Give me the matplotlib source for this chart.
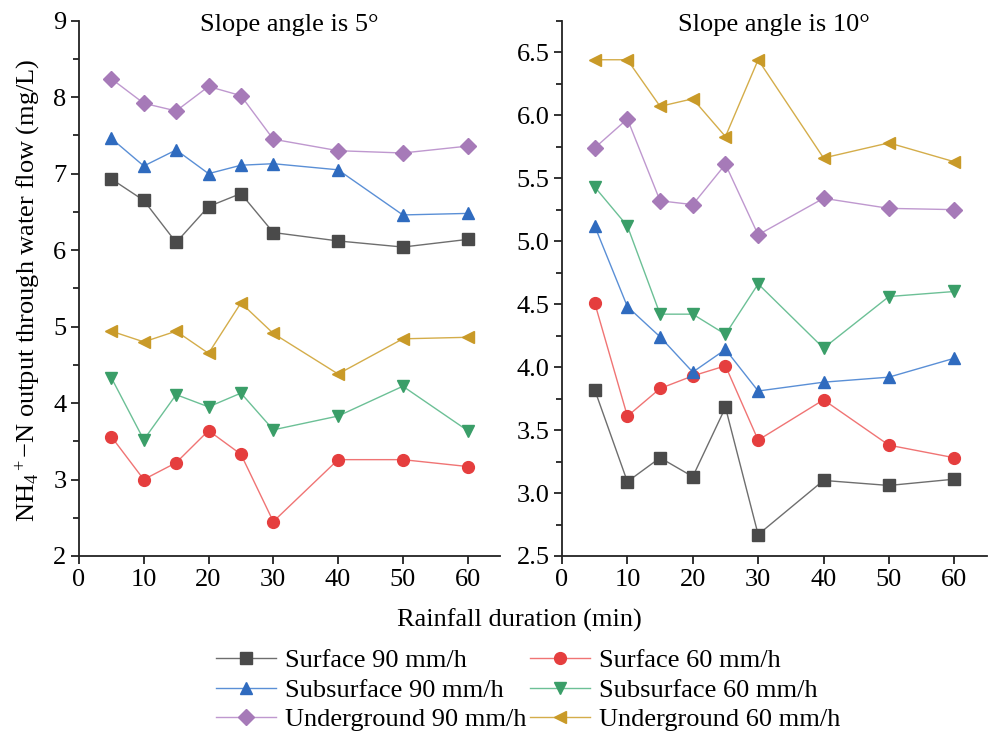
import matplotlib
matplotlib.use("Agg")
import matplotlib.pyplot as plt
from matplotlib.ticker import MultipleLocator

plt.rcParams['font.family'] = ['Liberation Serif', 'DejaVu Serif']
plt.rcParams['mathtext.fontset'] = 'custom'
plt.rcParams['mathtext.rm'] = 'Liberation Serif'
plt.rcParams['mathtext.it'] = 'Liberation Serif:italic'

FS = 19

duration = [5, 10, 15, 20, 25, 30, 40, 50, 60]

# Slope 5 degrees
s5_surface90 = [6.93, 6.65, 6.10, 6.57, 6.74, 6.23, 6.12, 6.04, 6.14]
s5_surface60 = [3.56, 3.00, 3.22, 3.64, 3.33, 2.45, 3.26, 3.26, 3.17]
s5_subsurface90 = [7.46, 7.10, 7.31, 7.00, 7.11, 7.13, 7.05, 6.46, 6.48]
s5_subsurface60 = [4.33, 3.52, 4.11, 3.95, 4.13, 3.65, 3.83, 4.22, 3.64]
s5_underground90 = [8.24, 7.92, 7.82, 8.14, 8.02, 7.45, 7.30, 7.27, 7.36]
s5_underground60 = [4.94, 4.80, 4.94, 4.65, 5.31, 4.91, 4.38, 4.84, 4.86]

# Slope 10 degrees
s10_surface90 = [3.82, 3.09, 3.28, 3.13, 3.68, 2.67, 3.10, 3.06, 3.11]
s10_surface60 = [4.51, 3.61, 3.83, 3.93, 4.01, 3.42, 3.74, 3.38, 3.28]
s10_subsurface90 = [5.12, 4.48, 4.24, 3.96, 4.14, 3.81, 3.88, 3.92, 4.07]
s10_subsurface60 = [5.43, 5.12, 4.42, 4.42, 4.26, 4.66, 4.15, 4.56, 4.60]
s10_underground90 = [5.74, 5.97, 5.32, 5.29, 5.61, 5.05, 5.34, 5.26, 5.25]
s10_underground60 = [6.44, 6.44, 6.07, 6.13, 5.83, 6.44, 5.66, 5.78, 5.63]

labels = ["Surface 90 mm/h", "Surface 60 mm/h", "Subsurface 90 mm/h",
          "Subsurface 60 mm/h", "Underground 90 mm/h", "Underground 60 mm/h"]
markers = ['s', 'o', '^', 'v', 'D', '<']
mcolors = ['#4a4a4a', '#e53e3e', '#2f6bbf', '#3a9e68', '#a67ab8', '#c99a28']
lcolors = ['#6e6e6e', '#f07474', '#5a8fd6', '#6cc096', '#bf98cf', '#d4ad4a']
msizes = [8.5, 8.5, 9, 9, 8.5, 9]

series5 = [s5_surface90, s5_surface60, s5_subsurface90, s5_subsurface60,
           s5_underground90, s5_underground60]
series10 = [s10_surface90, s10_surface60, s10_subsurface90, s10_subsurface60,
            s10_underground90, s10_underground60]

fig = plt.figure(figsize=(9.89, 7.40), dpi=100)
ax1 = fig.add_axes([79/989, 1-556/740, (500-79)/989, (556-20.7)/740])
ax2 = fig.add_axes([562/989, 1-556/740, (987-562)/989, (556-20.7)/740])

handles = []
for ax, data in ((ax1, series5), (ax2, series10)):
    for i, ys in enumerate(data):
        h, = ax.plot(duration, ys, color=lcolors[i], lw=1.0, marker=markers[i],
                     markersize=msizes[i], markerfacecolor=mcolors[i],
                     markeredgecolor=mcolors[i], label=labels[i])
        if ax is ax1:
            handles.append(h)
    ax.set_xlim(0, 65)
    ax.xaxis.set_major_locator(MultipleLocator(10))
    for side in ('top', 'right'):
        ax.spines[side].set_visible(False)
    for side in ('left', 'bottom'):
        ax.spines[side].set_linewidth(1.3)
        ax.spines[side].set_color('#222222')
    ax.tick_params(axis='both', which='major', direction='out', length=6,
                   width=1.3, labelsize=FS, color='#222222', pad=3)
    ax.tick_params(axis='y', which='minor', direction='out', length=4,
                   width=1.3, color='#222222')

ax1.set_ylim(2, 9)
ax1.yaxis.set_major_locator(MultipleLocator(1))
ax1.yaxis.set_minor_locator(MultipleLocator(0.5))
ax2.set_ylim(2.5, 6.75)
ax2.yaxis.set_major_locator(MultipleLocator(0.5))
ax2.yaxis.set_minor_locator(MultipleLocator(0.25))
ax2.yaxis.set_major_formatter(matplotlib.ticker.FormatStrFormatter('%.1f'))

fig.text(289.5/989, 1-25/740, "Slope angle is 5°", ha='center', va='center', fontsize=FS)
fig.text(774/989, 1-25/740, "Slope angle is 10°", ha='center', va='center', fontsize=FS)

fig.text(28/989, 1-290/740, r"NH$_4$$^+$−N output through water flow (mg/L)",
         rotation=90, ha='center', va='center', fontsize=FS)
fig.text(519/989, 1-620/740, "Rainfall duration (min)", ha='center', va='center', fontsize=FS)

order = [0, 2, 4, 1, 3, 5]
fig.legend([handles[i] for i in order], [labels[i] for i in order],
           loc='center', bbox_to_anchor=(528/989, 1-690/740), ncol=2,
           frameon=False, fontsize=FS, handlelength=2.27, handletextpad=0.34,
           columnspacing=0.15, labelspacing=0.23, borderpad=0.2)

fig.savefig("out.png", dpi=100)
